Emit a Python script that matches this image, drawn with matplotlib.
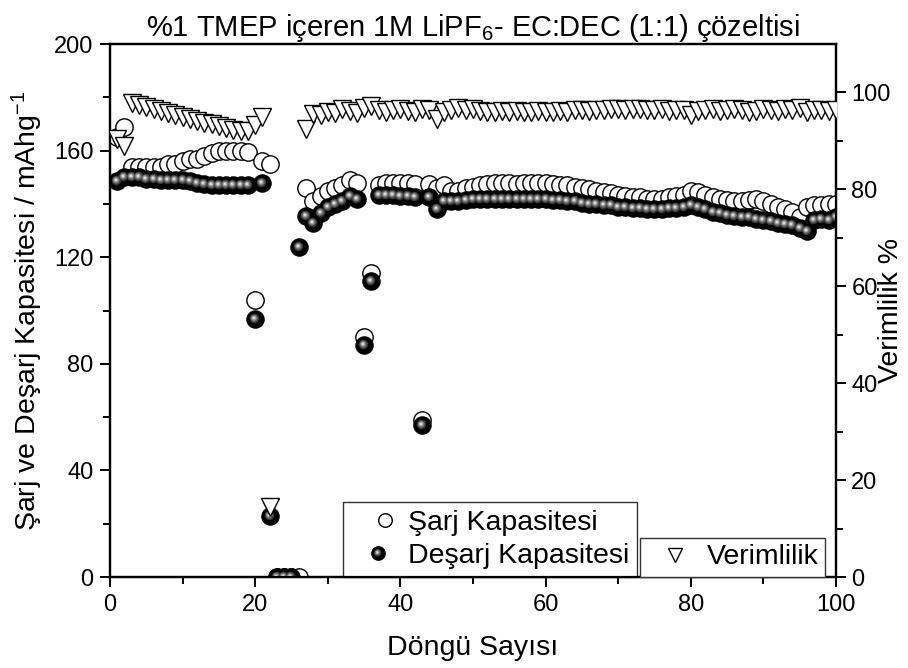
import numpy as np
import matplotlib
matplotlib.use("Agg")
import matplotlib.pyplot as plt
from matplotlib.path import Path
from matplotlib.legend_handler import HandlerTuple, HandlerLine2D
from matplotlib.lines import Line2D

plt.rcParams['font.family'] = ['Liberation Sans', 'DejaVu Sans']
plt.rcParams['mathtext.fontset'] = 'custom'
plt.rcParams['mathtext.rm'] = 'Liberation Sans'
plt.rcParams['mathtext.it'] = 'Liberation Sans'

cycles = np.arange(1, 101)

charge = [
    165, 169, 154, 154, 154, 154, 154, 155, 155, 156,
    157, 157, 158, 159, 160, 160, 160, 160, 159.5, 104,
    156, 155, 0, 0, 0, 0, 146, 141, 143, 145,
    146, 147, 149, 148, 90, 114, 147, 148, 148, 148,
    148, 147.5, 59, 147.5, 146, 147, 145, 145, 146, 146.5,
    147, 147.5, 148, 148, 148, 147.5, 148, 148, 148, 148,
    147.5, 147, 147, 146.5, 146, 145.5, 145, 144.5, 144, 143.5,
    143, 142.5, 142.5, 142, 142, 142, 142.5, 143, 143.5, 145,
    144.5, 143.5, 142.5, 142, 141.5, 141, 141, 141.5, 142, 141,
    140, 139, 138, 137, 135, 139, 139.5, 139.5, 140, 140,
]

discharge = [
    148.5, 150, 150, 150, 149.5, 149.5, 149, 149, 149, 149,
    148.5, 148, 147.5, 147, 147, 147, 147, 147, 147, 97,
    148, 23, 0, 0, 0, 124, 135.5, 133, 136.5, 139,
    140, 141, 143, 142, 87, 111, 143.5, 143.5, 143.5, 143,
    143, 142.5, 57, 142.5, 138, 141, 141, 141, 141.5, 142,
    142, 142, 142, 142, 142, 142, 142, 142, 142, 142,
    141.5, 141.5, 141, 141, 140.5, 140, 140, 139.5, 139.5, 139,
    139, 138.5, 138.5, 138, 138, 138, 138.5, 138.5, 139, 139.5,
    139, 138, 137, 136.5, 136, 135.5, 135, 135, 134.5, 134,
    133.5, 133, 132.5, 132, 131, 130, 134, 134.5, 134, 135,
]

efficiency = [
    90.5, 89.0, 97.8, 97.4, 97.0, 96.6, 96.2, 95.8, 95.4, 95.0,
    94.6, 94.2, 93.8, 93.4, 93.0, 92.6, 92.3, 92.0, 92.0, 93.2,
    95.0, 14.5, np.nan, np.nan, np.nan, np.nan, 92.5, 95.6, 95.4, 96.0,
    95.8, 96.5, 96.2, 95.8, 96.7, 97.2, 96.4, 96.0, 96.3, 96.6,
    96.2, 96.0, 96.6, 96.3, 94.6, 96.0, 96.4, 96.8, 96.3, 96.5,
    96.2, 96.0, 96.0, 96.1, 96.0, 96.2, 96.0, 96.0, 96.1, 96.0,
    96.0, 96.2, 96.0, 96.3, 96.4, 96.2, 96.4, 96.3, 96.6, 96.5,
    96.4, 96.6, 96.5, 96.3, 96.4, 96.5, 96.2, 96.3, 96.4, 95.3,
    96.2, 96.3, 96.5, 96.2, 96.4, 96.6, 96.3, 96.0, 96.2, 96.5,
    96.3, 96.2, 96.5, 96.3, 96.7, 96.0, 96.3, 96.4, 96.2, 96.3,
]

FS_LABEL = 20.5
FS_TITLE = 21
FS_TICK = 17


def ball_path(dx, dy, r):
    """Circle of radius r at (dx, dy) inside a fixed [-1, 1] frame so every
    layer of the shaded ball marker scales identically."""
    circ = Path.circle((dx, dy), r)
    frame = Path([(-1, -1), (1, 1)], [Path.MOVETO, Path.MOVETO])
    return Path.make_compound_path(frame, circ)


ball_layers = [
    (ball_path(0, 0, 1.0), 'black', 0.8),
    (ball_path(-0.12, 0.12, 0.55), '#3a3a3a', 0),
    (ball_path(-0.15, 0.15, 0.40), '#707070', 0),
    (ball_path(-0.17, 0.17, 0.26), '#a8a8a8', 0),
    (ball_path(-0.18, 0.18, 0.13), '#e4e4e4', 0),
]

fig = plt.figure(figsize=(9.08, 6.68), dpi=100)
ax = fig.add_axes([0.1211, 0.1362, 0.7996, 0.7979])
ax2 = ax.twinx()

MS = 12.5
h_charge, = ax.plot(cycles, charge, 'o', ms=MS, mfc='white', mec='black',
                    mew=1.0, ls='none', zorder=3)
ball_handles = []
for i, (p, col, ew) in enumerate(ball_layers):
    h, = ax.plot(cycles, discharge, marker=p, ms=MS, mfc=col,
                 mec='black' if ew else col, mew=ew, ls='none', zorder=4 + i * 0.01)
    ball_handles.append(h)

h_eff, = ax2.plot(cycles, efficiency, 'v', ms=12.5, mfc='white', mec='black',
                  mew=1.0, ls='none', zorder=3)

ax.set_xlim(0, 100)
ax.set_ylim(0, 200)
ax2.set_ylim(0, 110)

ax.set_xticks(np.arange(0, 101, 20))
ax.set_xticks(np.arange(10, 100, 20), minor=True)
ax.set_yticks(np.arange(0, 201, 40))
ax.set_yticks(np.arange(20, 200, 40), minor=True)
ax2.set_yticks(np.arange(0, 101, 20))
ax2.set_yticks(np.arange(10, 110, 20), minor=True)

for a in (ax, ax2):
    for s in a.spines.values():
        s.set_linewidth(1.6)
    a.tick_params(which='major', length=7, width=1.4, labelsize=FS_TICK, pad=5)
    a.tick_params(which='minor', length=5, width=1.4)

ax.tick_params(which='both', direction='out', top=False, right=False)
ax2.tick_params(which='both', direction='out', left=False, right=True)
ax2.tick_params(which='major', pad=4)

ax.set_xlabel('Döngü Sayısı', fontsize=FS_LABEL, labelpad=14)
ax.set_ylabel('Şarj ve Deşarj Kapasitesi / mAhg$^{-1}$', fontsize=FS_LABEL, labelpad=6)
fig.text(891 / 908, 0.5 * (0.1362 + 0.9341), 'Verimlilik %', fontsize=FS_LABEL,
         rotation=90, ha='center', va='center')
ax.set_title('%1 TMEP içeren 1M LiPF$_6$- EC:DEC (1:1) çözeltisi',
             fontsize=FS_TITLE, pad=6)

leg1 = ax.legend([h_charge, tuple(ball_handles)],
                 ['Şarj Kapasitesi', 'Deşarj Kapasitesi'],
                 handler_map={tuple: HandlerTuple(ndivide=1, pad=0),
                              Line2D: HandlerLine2D(xpad=0.49)},
                 loc='lower left', bbox_to_anchor=(0.321, 0.0),
                 fontsize=FS_LABEL, frameon=True, fancybox=False,
                 edgecolor='#333333', framealpha=1, borderpad=0.28,
                 labelspacing=0.25, handlelength=1.9, handletextpad=0.1,
                 borderaxespad=0, markerscale=0.78)
leg1.get_frame().set_linewidth(1.0)
leg1.set_zorder(10)

leg2 = ax2.legend([h_eff], ['Verimlilik'], loc='lower left',
                  handler_map={Line2D: HandlerLine2D(xpad=0.4)},
                  bbox_to_anchor=(0.730, 0.0), fontsize=FS_LABEL,
                  frameon=True, fancybox=False, edgecolor='#333333',
                  framealpha=1, borderpad=0.23, handlelength=1.6,
                  handletextpad=0.52, borderaxespad=0, markerscale=0.8)
leg2.get_frame().set_linewidth(1.0)
leg2.set_zorder(10)

fig.savefig('out.png', dpi=100)
